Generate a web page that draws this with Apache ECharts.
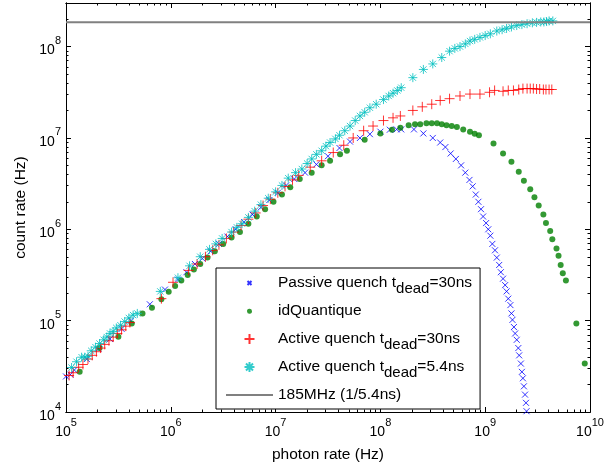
<!DOCTYPE html>
<html>
<head>
<meta charset="utf-8">
<script src="https://cdn.jsdelivr.net/npm/echarts@6/dist/echarts.min.js"></script>
<style>
  html, body { margin: 0; padding: 0; background: #fff; }
  #chart { width: 616px; height: 468px; }
</style>
</head>
<body>
<div id="chart"></div>
<script>
// photon rate (Hz), count rate (Hz)
var passiveQuench = [
  [1.0e5, 2.45e4], [1.10e5, 2.57e4], [1.20e5, 2.88e4], [1.58e5, 3.80e4], [2.04e5, 4.9e4],
  [2.63e5, 6.31e4], [3.39e5, 8.13e4], [4.17e5, 1.0e5], [6.31e5, 1.51e5], [8.8e5, 2.19e5],
  [1.17e6, 2.82e5], [1.41e6, 3.39e5], [1.70e6, 4.17e5], [2.0e6, 4.79e5], [2.40e6, 5.75e5],
  [2.88e6, 6.92e5], [3.47e6, 8.32e5], [4.17e6, 1.0e6], [5.01e6, 1.20e6], [6.03e6, 1.45e6],
  [7.24e6, 1.74e6], [8.71e6, 2.09e6], [1.05e7, 2.51e6], [1.26e7, 3.02e6], [1.51e7, 3.55e6],
  [1.91e7, 4.17e6], [2.45e7, 5.13e6], [3.16e7, 6.31e6], [4.07e7, 7.76e6], [5.13e7, 9.12e6],
  [6.38e7, 1.0e7], [7.94e7, 1.10e7], [1.0e8, 1.17e7], [1.23e8, 1.23e7], [1.43e8, 1.24e7],
  [1.58e8, 1.24e7], [2.09e8, 1.24e7], [2.57e8, 1.12e7], [3.16e8, 1.0e7], [3.72e8, 8.91e6],
  [4.17e8, 7.94e6], [4.68e8, 6.76e6], [5.25e8, 5.89e6], [5.89e8, 5.01e6], [6.46e8, 4.17e6],
  [7.08e8, 3.47e6], [7.59e8, 2.95e6], [8.13e8, 2.40e6], [8.61e8, 2.0e6], [9.12e8, 1.66e6],
  [9.55e8, 1.38e6], [1.02e9, 1.17e6], [1.07e9, 1.0e6], [1.12e9, 8.51e5], [1.17e9, 6.92e5],
  [1.24e9, 5.89e5], [1.29e9, 4.9e5], [1.36e9, 4.07e5], [1.41e9, 3.39e5], [1.48e9, 2.88e5],
  [1.55e9, 2.45e5], [1.60e9, 2.09e5], [1.66e9, 1.74e5], [1.74e9, 1.48e5], [1.78e9, 1.20e5],
  [1.82e9, 1.02e5], [1.88e9, 8.51e4], [1.93e9, 7.24e4], [2.0e9, 6.17e4], [2.07e9, 5.01e4],
  [2.11e9, 4.17e4], [2.19e9, 3.39e4], [2.24e9, 2.75e4], [2.29e9, 2.34e4], [2.34e9, 1.91e4],
  [2.40e9, 1.55e4], [2.45e9, 1.26e4], [2.48e9, 1.02e4]
];
var idQuantique = [
  [1.35e5, 2.75e4], [2.09e5, 5.01e4], [3.16e5, 6.68e4], [4.24e5, 9.33e4], [5.37e5, 1.20e5],
  [6.61e5, 1.38e5], [8.13e5, 1.72e5], [9.55e5, 2.07e5], [1.10e6, 2.40e5], [1.26e6, 2.75e5],
  [1.45e6, 3.16e5], [1.66e6, 3.63e5], [1.91e6, 4.17e5], [2.24e6, 4.9e5], [2.63e6, 5.75e5],
  [3.16e6, 6.92e5], [3.80e6, 8.13e5], [4.57e6, 9.33e5], [5.50e6, 1.15e6], [6.61e6, 1.38e6],
  [7.94e6, 1.66e6], [9.55e6, 2.0e6], [1.15e7, 2.40e6], [1.38e7, 2.88e6], [1.70e7, 3.55e6],
  [2.21e7, 4.17e6], [2.75e7, 5.01e6], [3.31e7, 5.62e6], [4.12e7, 6.61e6], [4.79e7, 7.24e6],
  [7.08e7, 9.55e6], [1.0e8, 1.12e7], [1.29e8, 1.23e7], [1.55e8, 1.29e7], [1.86e8, 1.38e7],
  [2.14e8, 1.41e7], [2.40e8, 1.41e7], [2.75e8, 1.45e7], [3.09e8, 1.45e7], [3.47e8, 1.45e7],
  [3.85e8, 1.41e7], [4.27e8, 1.38e7], [4.79e8, 1.35e7], [5.37e8, 1.32e7], [6.17e8, 1.24e7],
  [7.16e8, 1.17e7], [7.94e8, 1.11e7], [8.71e8, 1.07e7], [1.20e9, 8.71e6], [1.48e9, 6.76e6],
  [1.78e9, 5.5e6], [2.09e9, 4.27e6], [2.34e9, 3.39e6], [2.69e9, 2.75e6], [2.95e9, 2.24e6],
  [3.24e9, 1.82e6], [3.59e9, 1.45e6], [3.80e9, 1.17e6], [4.17e9, 9.55e5], [4.37e9, 7.76e5],
  [4.79e9, 6.17e5], [5.01e9, 5.13e5], [5.25e9, 4.07e5], [5.50e9, 3.31e5], [5.89e9, 2.75e5],
  [7.41e9, 9.33e4], [8.91e9, 3.39e4]
];
var activeQuench30 = [
  [1.07e5, 2.51e4], [1.17e5, 2.69e4], [1.32e5, 3.09e4], [1.45e5, 3.31e4], [1.62e5, 3.80e4],
  [1.78e5, 4.17e4], [1.95e5, 4.57e4], [2.14e5, 5.01e4], [2.34e5, 5.5e4], [2.57e5, 6.03e4],
  [2.82e5, 6.61e4], [3.09e5, 7.24e4], [3.39e5, 7.94e4], [3.72e5, 8.71e4], [4.07e5, 9.55e4],
  [8.13e5, 1.74e5], [1.05e6, 2.63e5], [1.48e6, 3.55e5], [1.78e6, 4.17e5], [2.14e6, 5.01e5],
  [2.51e6, 5.89e5], [2.88e6, 6.76e5], [3.39e6, 7.94e5], [3.98e6, 9.33e5], [4.68e6, 1.10e6],
  [5.5e6, 1.29e6], [6.46e6, 1.51e6], [7.59e6, 1.82e6], [8.91e6, 2.14e6], [1.05e7, 2.51e6],
  [1.23e7, 2.95e6], [1.45e7, 3.47e6], [1.66e7, 3.89e6], [2.14e7, 4.79e6], [2.75e7, 5.62e6],
  [3.55e7, 6.92e6], [4.47e7, 8.32e6], [5.5e7, 1.0e7], [6.92e7, 1.20e7], [8.51e7, 1.35e7],
  [1.07e8, 1.55e7], [1.32e8, 1.66e7], [1.55e8, 1.74e7], [2.04e8, 2.0e7], [2.51e8, 2.19e7],
  [3.09e8, 2.34e7], [3.72e8, 2.57e7], [4.57e8, 2.69e7], [5.75e8, 2.88e7], [7.16e8, 3.02e7],
  [8.91e8, 3.02e7], [1.10e9, 3.16e7], [1.23e9, 3.31e7], [1.48e9, 3.24e7], [1.66e9, 3.31e7],
  [1.86e9, 3.31e7], [2.09e9, 3.39e7], [2.29e9, 3.47e7], [2.51e9, 3.47e7], [2.69e9, 3.47e7],
  [2.88e9, 3.47e7], [3.09e9, 3.43e7], [3.31e9, 3.43e7], [3.59e9, 3.39e7], [3.80e9, 3.39e7],
  [4.07e9, 3.39e7], [4.32e9, 3.39e7]
];
var activeQuench54 = [
  [1.13e5, 3.07e4], [1.26e5, 3.55e4], [1.41e5, 3.98e4], [1.51e5, 3.98e4], [1.62e5, 4.07e4],
  [1.74e5, 4.68e4], [1.91e5, 5.13e4], [2.09e5, 5.62e4], [2.29e5, 6.17e4], [2.45e5, 6.61e4],
  [2.63e5, 7.24e4], [2.82e5, 7.59e4], [3.02e5, 8.32e4], [3.31e5, 8.91e4], [3.63e5, 9.77e4],
  [3.98e5, 1.07e5], [4.37e5, 1.15e5], [4.79e5, 1.20e5], [7.94e5, 2.09e5], [1.17e6, 2.95e5],
  [1.51e6, 3.98e5], [1.91e6, 5.01e5], [2.34e6, 6.03e5], [2.69e6, 6.92e5], [3.09e6, 7.94e5],
  [3.80e6, 9.33e5], [4.27e6, 1.05e6], [4.79e6, 1.15e6], [5.5e6, 1.35e6], [6.31e6, 1.58e6],
  [7.24e6, 1.86e6], [8.51e6, 2.19e6], [1.0e7, 2.57e6], [1.15e7, 3.02e6], [1.32e7, 3.63e6],
  [1.55e7, 4.17e6], [1.78e7, 4.57e6], [2.0e7, 5.25e6], [2.21e7, 5.89e6], [2.45e7, 6.61e6],
  [2.75e7, 7.24e6], [3.02e7, 8.13e6], [3.31e7, 8.91e6], [3.72e7, 9.77e6], [4.07e7, 1.07e7],
  [4.57e7, 1.20e7], [5.13e7, 1.35e7], [5.75e7, 1.55e7], [6.38e7, 1.74e7], [7.08e7, 1.91e7],
  [7.94e7, 2.14e7], [9.12e7, 2.34e7], [1.07e8, 2.63e7], [1.20e8, 2.88e7], [1.32e8, 3.09e7],
  [1.45e8, 3.31e7], [1.58e8, 3.55e7], [2.04e8, 4.57e7], [2.57e8, 5.62e7], [3.16e8, 6.46e7],
  [3.85e8, 7.59e7], [4.57e8, 8.91e7], [5.13e8, 9.55e7], [5.75e8, 1.0e8], [6.46e8, 1.07e8],
  [7.16e8, 1.15e8], [7.94e8, 1.20e8], [8.91e8, 1.26e8], [1.0e9, 1.32e8], [1.12e9, 1.38e8],
  [1.29e9, 1.48e8], [1.45e9, 1.53e8], [1.60e9, 1.58e8], [1.78e9, 1.64e8], [2.0e9, 1.70e8],
  [2.24e9, 1.74e8], [2.51e9, 1.78e8], [2.82e9, 1.82e8], [3.09e9, 1.84e8], [3.39e9, 1.86e8],
  [3.63e9, 1.86e8], [3.85e9, 1.88e8], [4.07e9, 1.91e8], [4.42e9, 1.91e8]
];
var limitLine = [[1e5, 1.85e8], [1e10, 1.85e8]];

var xRange = [1e5, 1e10];
var yRange = [1e4, 3e8];
var xMajorTicks = [1e5, 1e6, 1e7, 1e8, 1e9, 1e10];
var yMajorTicks = [1e4, 1e5, 1e6, 1e7, 1e8];

function minorTicks(majors, max) {
    var out = [];
    majors.forEach(function (d) {
        for (var k = 2; k <= 9; k++) {
            if (d * k < max) out.push(d * k);
        }
    });
    return out;
}
var xMinorTicks = minorTicks(xMajorTicks, xRange[1]);
var yMinorTicks = minorTicks(yMajorTicks, yRange[1]);

var FONT = '"Liberation Sans", Arial, sans-serif';

function powLabel(v) {
    return '{b|10}{e|' + Math.round(Math.log10(v)) + '}';
}
var powRich = {
    b: { fontSize: 14, fontFamily: FONT, color: '#000', lineHeight: 22, verticalAlign: 'bottom' },
    e: { fontSize: 11, fontFamily: FONT, color: '#000', lineHeight: 22, verticalAlign: 'top' }
};

// one axis: major or minor ticks, labels only on the bottom / left major axis
function makeAxis(range, position, ticks, len, withLabels) {
    return {
        type: 'log',
        logBase: 10,
        position: position,
        min: range[0],
        max: range[1],
        axisLine: { show: true, onZero: false, lineStyle: { color: '#000', width: 1 } },
        splitLine: { show: false },
        axisTick: { show: true, inside: true, length: len, customValues: ticks, lineStyle: { color: '#000', width: 1 } },
        axisLabel: withLabels ? {
            show: true, customValues: ticks, margin: 5,
            formatter: powLabel, rich: powRich
        } : { show: false },
        axisPointer: { show: false },
        silent: true
    };
}

var xBottom = makeAxis(xRange, 'bottom', xMajorTicks, 5, true);
xBottom.name = 'photon rate (Hz)';
xBottom.nameLocation = 'middle';
xBottom.nameGap = 35;
xBottom.nameTextStyle = { fontSize: 15.5, fontFamily: FONT, color: '#000' };

var yLeft = makeAxis(yRange, 'left', yMajorTicks, 5, true);
yLeft.name = 'count rate (Hz)';
yLeft.nameLocation = 'middle';
yLeft.nameGap = 36;
yLeft.nameTextStyle = { fontSize: 15.5, fontFamily: FONT, color: '#000' };

var legendNames = {
    'Passive quench t_dead=30ns': '{n|Passive quench t}{s|dead}{n|=30ns}',
    'idQuantique': '{n|idQuantique}',
    'Active quench t_dead=30ns': '{n|Active quench t}{s|dead}{n|=30ns}',
    'Active quench t_dead=5.4ns': '{n|Active quench t}{s|dead}{n|=5.4ns}',
    '185MHz (1/5.4ns)': '{n|185MHz (1/5.4ns)}'
};

var crossPath = 'path://M0,0L10,10M10,0L0,10';
var plusPath = 'path://M5,0L5,10M0,5L10,5';
var starPath = 'path://M5,0L5,10M0,5L10,5M1.5,1.5L8.5,8.5M8.5,1.5L1.5,8.5';

var chart = echarts.init(document.getElementById('chart'), null, { renderer: 'canvas' });
chart.setOption({
    animation: false,
    backgroundColor: '#fff',
    grid: { left: 66, right: 26, top: 3, bottom: 54, containLabel: false },
    xAxis: [
        xBottom,
        makeAxis(xRange, 'bottom', xMinorTicks, 2.5, false),
        makeAxis(xRange, 'top', xMajorTicks, 5, false),
        makeAxis(xRange, 'top', xMinorTicks, 2.5, false)
    ],
    yAxis: [
        yLeft,
        makeAxis(yRange, 'left', yMinorTicks, 2.5, false),
        makeAxis(yRange, 'right', yMajorTicks, 5, false),
        makeAxis(yRange, 'right', yMinorTicks, 2.5, false)
    ],
    legend: {
        orient: 'vertical',
        left: 216,
        top: 268,
        padding: [1, 8, 0, 10],
        itemGap: 0,
        itemWidth: 47,
        itemHeight: 10,
        backgroundColor: '#fff',
        borderColor: '#000',
        borderWidth: 1,
        borderRadius: 0,
        selectedMode: false,
        formatter: function (name) { return legendNames[name]; },
        textStyle: {
            fontFamily: FONT,
            fontSize: 15.5,
            color: '#000',
            rich: {
                n: { fontSize: 15.5, fontFamily: FONT, color: '#000', lineHeight: 15, padding: [6, 0, 6, 0] },
                s: { fontSize: 15, fontFamily: FONT, color: '#000', lineHeight: 15, padding: [12, 0, 0, 0] }
            }
        },
        data: [
            { name: 'Passive quench t_dead=30ns', icon: 'path://M0,0M3,3L7,7M7,3L3,7M10,10' },
            { name: 'idQuantique', icon: 'path://M0,0M10,10M7.5,5A2.5,2.5,0,1,1,7.49,4.9Z' },
            { name: 'Active quench t_dead=30ns', icon: plusPath },
            { name: 'Active quench t_dead=5.4ns', icon: starPath },
            { name: '185MHz (1/5.4ns)', icon: 'path://M0,0M0,4L47,4L47,6L0,6ZM47,10' }
        ]
    },
    series: [
        {
            name: 'Passive quench t_dead=30ns',
            type: 'scatter',
            data: passiveQuench,
            symbol: crossPath,
            symbolSize: 6,
            symbolKeepAspect: true,
            itemStyle: { color: '#0000ff', borderColor: '#0000ff', borderWidth: 1 },
            emphasis: { disabled: true }
        },
        {
            name: 'idQuantique',
            type: 'scatter',
            data: idQuantique,
            symbol: 'circle',
            symbolSize: 6,
            itemStyle: { color: '#008000', borderWidth: 0 },
            emphasis: { disabled: true }
        },
        {
            name: 'Active quench t_dead=30ns',
            type: 'scatter',
            data: activeQuench30,
            symbol: plusPath,
            symbolSize: 10,
            symbolKeepAspect: true,
            itemStyle: { color: '#ff0000', borderColor: '#ff0000', borderWidth: 1 },
            emphasis: { disabled: true }
        },
        {
            name: 'Active quench t_dead=5.4ns',
            type: 'scatter',
            data: activeQuench54,
            symbol: starPath,
            symbolSize: 9,
            symbolKeepAspect: true,
            itemStyle: { color: '#00bfbf', borderColor: '#00bfbf', borderWidth: 1 },
            emphasis: { disabled: true }
        },
        {
            name: '185MHz (1/5.4ns)',
            type: 'line',
            data: limitLine,
            symbol: 'none',
            lineStyle: { color: '#808080', width: 2 },
            itemStyle: { color: '#808080' },
            emphasis: { disabled: true }
        }
    ]
});
</script>
</body>
</html>
